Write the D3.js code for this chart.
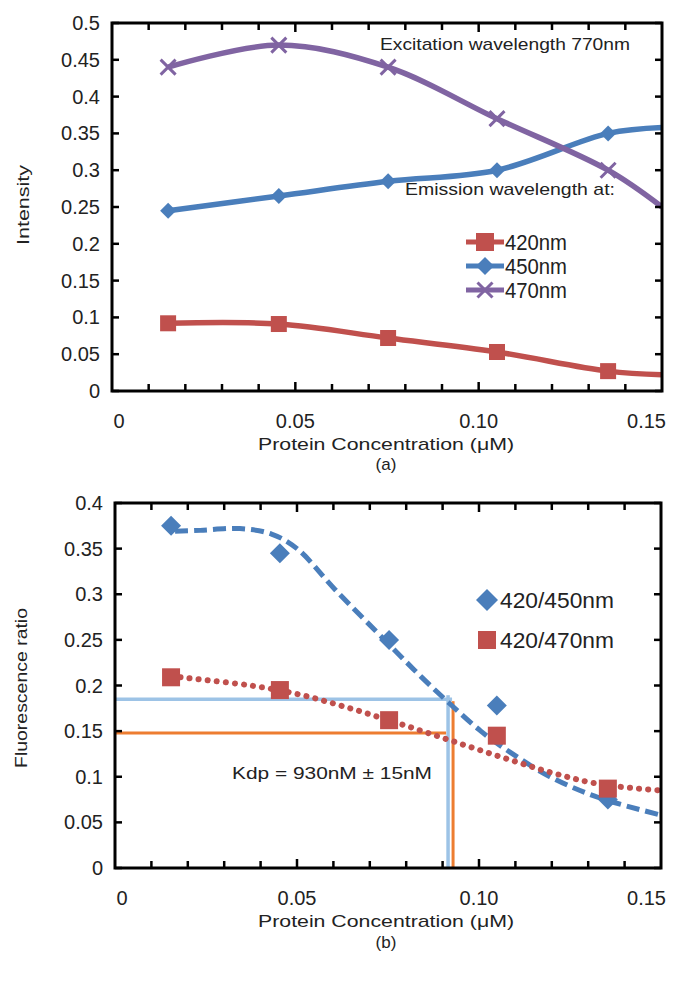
<!DOCTYPE html>
<html>
<head>
<meta charset="utf-8">
<script src="https://cdn.jsdelivr.net/npm/d3@7"></script>
<style>
body { margin: 0; background: #fff; }
svg text { font-family: "Liberation Sans", Arial, sans-serif; fill: #222; }
</style>
</head>
<body>
<script>
// ---- data, panel (a) ----
var concA = [0.0153, 0.0455, 0.0753, 0.105, 0.1353, 0.15];   // last value = where curve leaves the frame
var em420 = [0.092, 0.091, 0.072, 0.053, 0.027, 0.022];
var em450 = [0.245, 0.265, 0.285, 0.300, 0.350, 0.358];
var em470 = [0.440, 0.470, 0.440, 0.370, 0.300, 0.250];
var seriesNamesA = ["420nm", "450nm", "470nm"];
var yTicksA = [0, 0.05, 0.1, 0.15, 0.2, 0.25, 0.3, 0.35, 0.4, 0.45, 0.5];
var xTickLabels = ["0", "0.05", "0.10", "0.15"];
var xTickValues = [0, 0.05, 0.10, 0.15];

// ---- data, panel (b) ----
var concB = [0.0154, 0.0453, 0.0753, 0.1049, 0.1354];
var ratio450 = [0.375, 0.345, 0.250, 0.178, 0.075];
var ratio470 = [0.209, 0.195, 0.162, 0.145, 0.087];
// fitted curves
var fit450x = [0.0165, 0.0234, 0.0343, 0.043, 0.050, 0.0605, 0.0753, 0.084, 0.0920, 0.1005, 0.1085, 0.1195, 0.1330, 0.150];
var fit450y = [0.369, 0.370, 0.372, 0.366, 0.350, 0.305, 0.245, 0.210, 0.180, 0.150, 0.127, 0.100, 0.077, 0.058];
var fit470x = [0.018, 0.0372, 0.0508, 0.0646, 0.0783, 0.0920, 0.1058, 0.1195, 0.1330, 0.150];
var fit470y = [0.209, 0.200, 0.190, 0.175, 0.158, 0.140, 0.122, 0.105, 0.092, 0.085];
var seriesNamesB = ["420/450nm", "420/470nm"];
var yTicksB = [0, 0.05, 0.1, 0.15, 0.2, 0.25, 0.3, 0.35, 0.4];
var kdBlue = { x: 0.0915, y: 0.185 };
var kdOrange = { x: 0.0926, y: 0.148 };

var RED = "#c0504d", BLUE = "#4a7ebb", PURPLE = "#8064a2";
var LBLUE = "#9dc3e6", ORANGE = "#ed7d31";

var svg = d3.select("body").append("svg")
    .attr("width", 674)
    .attr("height", 983);

// text stretched to a given width (the original figure is a bit wide)
function label(g, x, y, size, width, str, anchor) {
    var t = g.append("text")
        .attr("x", x).attr("y", y)
        .attr("font-size", size)
        .text(str);
    if (anchor) t.attr("text-anchor", anchor);
    if (width) t.attr("textLength", width).attr("lengthAdjust", "spacingAndGlyphs");
    return t;
}

function frame(g, x, y, yTicks, fmt) {
    var x0 = x.range()[0], x1 = x.range()[1];
    var y0 = y.range()[0], y1 = y.range()[1];
    // minor ticks every 0.01 on top and bottom
    var xt = d3.range(0.01, 0.15, 0.01);
    xt.forEach(function(v) {
        var major = Math.abs(v - 0.05) < 1e-6 || Math.abs(v - 0.1) < 1e-6;
        var len = major ? 9 : 7;
        g.append("line").attr("x1", x(v)).attr("x2", x(v))
            .attr("y1", y0).attr("y2", y0 - len)
            .attr("stroke", "#000").attr("stroke-width", 2.5);
        g.append("line").attr("x1", x(v)).attr("x2", x(v))
            .attr("y1", y1).attr("y2", y1 + len)
            .attr("stroke", "#000").attr("stroke-width", 2.5);
    });
    yTicks.forEach(function(v) {
        g.append("line").attr("x1", x0).attr("x2", x0 + 7)
            .attr("y1", y(v)).attr("y2", y(v))
            .attr("stroke", "#000").attr("stroke-width", 2.5);
        g.append("line").attr("x1", x1).attr("x2", x1 - 7)
            .attr("y1", y(v)).attr("y2", y(v))
            .attr("stroke", "#000").attr("stroke-width", 2.5);
        g.append("text")
            .attr("x", x0 - 12).attr("y", y(v) + 7)
            .attr("text-anchor", "end")
            .attr("font-size", 20)
            .text(fmt(v));
    });
    g.append("rect")
        .attr("x", x0).attr("y", y1)
        .attr("width", x1 - x0).attr("height", y0 - y1)
        .attr("fill", "none").attr("stroke", "#000").attr("stroke-width", 3);
}

function xLabels(g, x, yPos) {
    g.selectAll(".xl").data(xTickValues).enter().append("text")
        .attr("x", function(d, i) {
            if (i === 0) return x(d) + 7;
            if (i === xTickValues.length - 1) return 666;
            return x(d);
        })
        .attr("y", yPos)
        .attr("text-anchor", function(d, i) {
            return i === xTickValues.length - 1 ? "end" : "middle";
        })
        .attr("font-size", 20)
        .text(function(d, i) { return xTickLabels[i]; });
}

function fmtY(v) { return v === 0 ? "0" : String(+v.toFixed(2)); }

function diamond(g, cx, cy, r, color) {
    g.append("path")
        .attr("d", "M" + cx + "," + (cy - r) + "L" + (cx + r) + "," + cy +
                   "L" + cx + "," + (cy + r) + "L" + (cx - r) + "," + cy + "Z")
        .attr("fill", color);
}
function square(g, cx, cy, r, color) {
    g.append("rect").attr("x", cx - r).attr("y", cy - r)
        .attr("width", 2 * r).attr("height", 2 * r).attr("fill", color);
}
function cross(g, cx, cy, r, color) {
    g.append("path")
        .attr("d", "M" + (cx - r) + "," + (cy - r) + "L" + (cx + r) + "," + (cy + r) +
                   "M" + (cx + r) + "," + (cy - r) + "L" + (cx - r) + "," + (cy + r))
        .attr("stroke", color).attr("stroke-width", 3).attr("fill", "none");
}

// ================= panel (a) =================
var xA = d3.scaleLinear().domain([0, 0.15]).range([112, 662]);
var yA = d3.scaleLinear().domain([0, 0.5]).range([391, 23]);
var gA = svg.append("g");

svg.append("clipPath").attr("id", "clipA")
    .append("rect").attr("x", 112).attr("y", 23).attr("width", 550).attr("height", 368);

var lineA = d3.line().curve(d3.curveCatmullRom.alpha(0.5))
    .x(function(d) { return xA(d[0]); })
    .y(function(d) { return yA(d[1]); });

var seriesA = [
    { name: seriesNamesA[0], vals: em420, color: RED, mark: square },
    { name: seriesNamesA[1], vals: em450, color: BLUE, mark: diamond },
    { name: seriesNamesA[2], vals: em470, color: PURPLE, mark: cross }
];
var plotA = gA.append("g").attr("clip-path", "url(#clipA)");
seriesA.forEach(function(s) {
    var pts = concA.map(function(c, i) { return [c, s.vals[i]]; });
    plotA.append("path").datum(pts)
        .attr("d", lineA)
        .attr("fill", "none")
        .attr("stroke", s.color)
        .attr("stroke-width", 5.5);
    pts.slice(0, 5).forEach(function(p) {
        s.mark(plotA, xA(p[0]), yA(p[1]), s.mark === cross ? 7.5 : 8, s.color);
    });
});

frame(gA, xA, yA, yTicksA, fmtY);
xLabels(gA, xA, 428);

label(gA, 380, 50, 17, 250, "Excitation wavelength 770nm");
label(gA, 405, 195, 17, 210, "Emission wavelength at:");

seriesA.forEach(function(s, i) {
    var ly = 242 + i * 24;
    gA.append("line").attr("x1", 466).attr("x2", 504)
        .attr("y1", ly).attr("y2", ly)
        .attr("stroke", s.color).attr("stroke-width", 5);
    s.mark(gA, 485, ly, s.mark === cross ? 7.5 : 9, s.color);
    label(gA, 505, ly + 8, 22, 62, s.name);
});

label(gA.append("g").attr("transform", "translate(29,205) rotate(-90)"),
      0, 0, 17, 80, "Intensity", "middle");
label(gA, 386, 450, 17, 256, "Protein Concentration (\u03bcM)", "middle");
label(gA, 386, 470, 17, null, "(a)", "middle");

// ================= panel (b) =================
var xB = d3.scaleLinear().domain([0, 0.15]).range([115, 661]);
var yB = d3.scaleLinear().domain([0, 0.4]).range([868, 503]);
var gB = svg.append("g");

svg.append("clipPath").attr("id", "clipB")
    .append("rect").attr("x", 115).attr("y", 503).attr("width", 546).attr("height", 365);

var lineB = d3.line().curve(d3.curveCatmullRom.alpha(0.5))
    .x(function(d) { return xB(d[0]); })
    .y(function(d) { return yB(d[1]); });

var plotB = gB.append("g").attr("clip-path", "url(#clipB)");

// Kd guide lines
plotB.append("line").attr("x1", xB(0)).attr("x2", xB(kdBlue.x) + 4)
    .attr("y1", yB(kdBlue.y)).attr("y2", yB(kdBlue.y))
    .attr("stroke", LBLUE).attr("stroke-width", 3.5);
plotB.append("line").attr("x1", xB(kdBlue.x)).attr("x2", xB(kdBlue.x))
    .attr("y1", yB(kdBlue.y) - 4).attr("y2", yB(0))
    .attr("stroke", LBLUE).attr("stroke-width", 3.5);
plotB.append("line").attr("x1", xB(0)).attr("x2", xB(kdBlue.x) - 2)
    .attr("y1", yB(kdOrange.y)).attr("y2", yB(kdOrange.y))
    .attr("stroke", ORANGE).attr("stroke-width", 3);
plotB.append("line").attr("x1", xB(kdOrange.x) + 1).attr("x2", xB(kdOrange.x) + 1)
    .attr("y1", yB(kdBlue.y) + 2).attr("y2", yB(0))
    .attr("stroke", ORANGE).attr("stroke-width", 3);

// fitted curves
plotB.append("path")
    .datum(fit450x.map(function(c, i) { return [c, fit450y[i]]; }))
    .attr("d", lineB).attr("fill", "none")
    .attr("stroke", BLUE).attr("stroke-width", 5)
    .attr("stroke-dasharray", "13 6");
plotB.append("path")
    .datum(fit470x.map(function(c, i) { return [c, fit470y[i]]; }))
    .attr("d", lineB).attr("fill", "none")
    .attr("stroke", RED).attr("stroke-width", 6)
    .attr("stroke-linecap", "round")
    .attr("stroke-dasharray", "0.1 9");

concB.forEach(function(c, i) {
    diamond(plotB, xB(c), yB(ratio450[i]), 10, BLUE);
    square(plotB, xB(c), yB(ratio470[i]), 9, RED);
});

frame(gB, xB, yB, yTicksB, fmtY);
xLabels(gB, xB, 905);

label(gB, 232, 779, 17, 200, "Kdp = 930nM \u00b1 15nM");

diamond(gB, 487, 600, 11, BLUE);
label(gB, 500, 608, 22, 114, seriesNamesB[0]);
square(gB, 487, 640, 9, RED);
label(gB, 500, 648, 22, 114, seriesNamesB[1]);

label(gB.append("g").attr("transform", "translate(27,688) rotate(-90)"),
      0, 0, 17, 160, "Fluorescence ratio", "middle");
label(gB, 386, 927, 17, 256, "Protein Concentration (\u03bcM)", "middle");
label(gB, 386, 948, 17, null, "(b)", "middle");
</script>
</body>
</html>
